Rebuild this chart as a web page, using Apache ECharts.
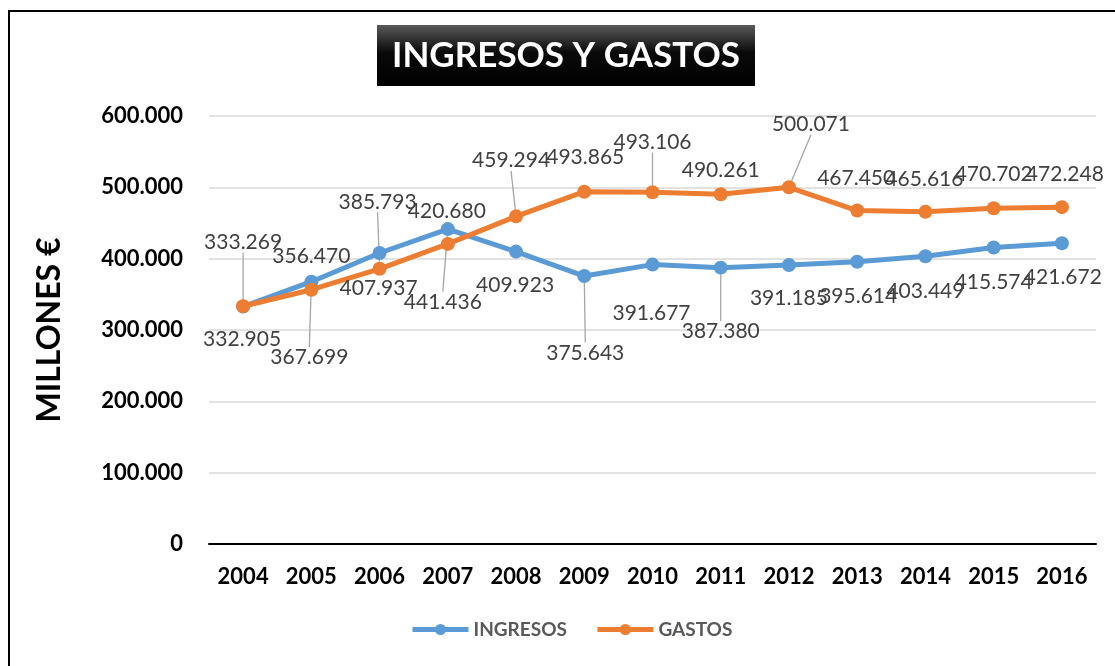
<!DOCTYPE html>
<html>
<head>
<meta charset="utf-8">
<title>INGRESOS Y GASTOS</title>
<script src="https://cdn.jsdelivr.net/npm/echarts@6/dist/echarts.min.js"></script>
<style>
  html, body { margin: 0; padding: 0; background: #fff; }
  #chart { width: 1115px; height: 666px; }
</style>
</head>
<body>
<div id="chart"></div>
<script>
// datos (millones de euros)
var years = ['2004', '2005', '2006', '2007', '2008', '2009', '2010', '2011', '2012', '2013', '2014', '2015', '2016']
var ingresos = [332905, 367699, 407937, 441436, 409923, 375643, 391677, 387380, 391185, 395614, 403449, 415574, 421672]
var gastos = [333269, 356470, 385793, 420680, 459294, 493865, 493106, 490261, 500071, 467450, 465616, 470702, 472248]

// colocacion de etiquetas (dx, dy desde el punto) y lineas guia
var ingOffsets = [[-1, 33], [-2, 76], [-1, 35], [-5, 73], [-1, 34], [1, 77], [-1, 49], [0, 64], [0, 33], [1, 34], [0, 35], [0, 35], [1, 34]]
var ingLeader = [false, true, false, true, false, true, false, true, false, false, false, false, false]
var gasOffsets = [[0, -64], [0, -33], [-2, -67], [-1, -33], [-5, -56], [1, -34], [0, -50], [0, -24], [22, -63], [-1, -32], [-1, -33], [0, -34], [3, -33]]
var gasLeader = [true, false, true, false, true, false, true, false, true, false, false, false, false]

function fmt (v) {
  return String(v).replace(/\B(?=(\d{3})+(?!\d))/g, '.')
}

function buildData (values, leader) {
  return values.map(function (v, i) {
    return { value: v, labelLine: { show: leader[i] } }
  })
}

var offsets = [ingOffsets, gasOffsets]
var font = 'Lato, "Open Sans", sans-serif'

var chart = echarts.init(document.getElementById('chart'))
var option = {
  animation: false,
  textStyle: { fontFamily: font },
  title: {
    text: 'INGRESOS Y GASTOS',
    left: 377,
    top: 25,
    padding: [12, 15, 12, 15],
    backgroundColor: new echarts.graphic.LinearGradient(0, 0, 0, 1, [
      { offset: 0, color: '#5a5a5a' },
      { offset: 0.45, color: '#0a0a0a' },
      { offset: 1, color: '#000' }
    ]),
    textStyle: { color: '#fff', fontSize: 35, fontWeight: 'bold', fontFamily: font, lineHeight: 37 }
  },
  graphic: [{
    type: 'rect',
    shape: { x: 9, y: 11, width: 1120, height: 700 },
    style: { fill: 'none', stroke: '#000', lineWidth: 2 },
    silent: true
  }],
  legend: {
    bottom: 22,
    left: 405,
    itemWidth: 56,
    itemHeight: 14,
    itemGap: 28,
    lineStyle: { width: 5 },
    textStyle: { color: '#595959', fontSize: 19, fontWeight: 'bold', fontFamily: font },
    data: ['INGRESOS', 'GASTOS']
  },
  grid: { left: 209, right: 19, top: 116, bottom: 122 },
  xAxis: {
    type: 'category',
    data: years,
    axisLine: { lineStyle: { color: '#000', width: 2 } },
    axisTick: { show: false },
    axisLabel: { color: '#000', fontSize: 22, fontWeight: 'bold', margin: 22 }
  },
  yAxis: {
    type: 'value',
    min: 0,
    max: 600000,
    interval: 100000,
    name: 'MILLONES €',
    nameLocation: 'middle',
    nameGap: 143,
    nameRotate: 90,
    nameTextStyle: { color: '#000', fontSize: 32, fontWeight: 'bold', fontFamily: font },
    axisLine: { show: false },
    axisTick: { show: false },
    splitLine: { lineStyle: { color: '#d9d9d9', width: 1.5 } },
    axisLabel: { color: '#000', fontSize: 22, fontWeight: 'bold', margin: 26, formatter: fmt }
  },
  series: [
    {
      name: 'INGRESOS',
      type: 'line',
      data: buildData(ingresos, ingLeader),
      color: '#5b9bd5',
      lineStyle: { width: 5 },
      symbol: 'circle',
      symbolSize: 14,
      label: {
        show: true,
        position: 'inside',
        color: '#404040',
        fontSize: 21,
        fontFamily: font,
        formatter: function (p) { return fmt(p.value) }
      },
      labelLine: { show: false, lineStyle: { color: '#a6a6a6', width: 1.3 } }
    },
    {
      name: 'GASTOS',
      type: 'line',
      data: buildData(gastos, gasLeader),
      color: '#ed7d31',
      lineStyle: { width: 5 },
      symbol: 'circle',
      symbolSize: 14,
      label: {
        show: true,
        position: 'inside',
        color: '#404040',
        fontSize: 21,
        fontFamily: font,
        formatter: function (p) { return fmt(p.value) }
      },
      labelLine: { show: false, lineStyle: { color: '#a6a6a6', width: 1.3 } }
    }
  ],
  labelLayout: function (params) {
    var o = offsets[params.seriesIndex][params.dataIndex]
    return { dx: o[0], dy: o[1] }
  }
}
chart.setOption(option)
</script>
</body>
</html>
